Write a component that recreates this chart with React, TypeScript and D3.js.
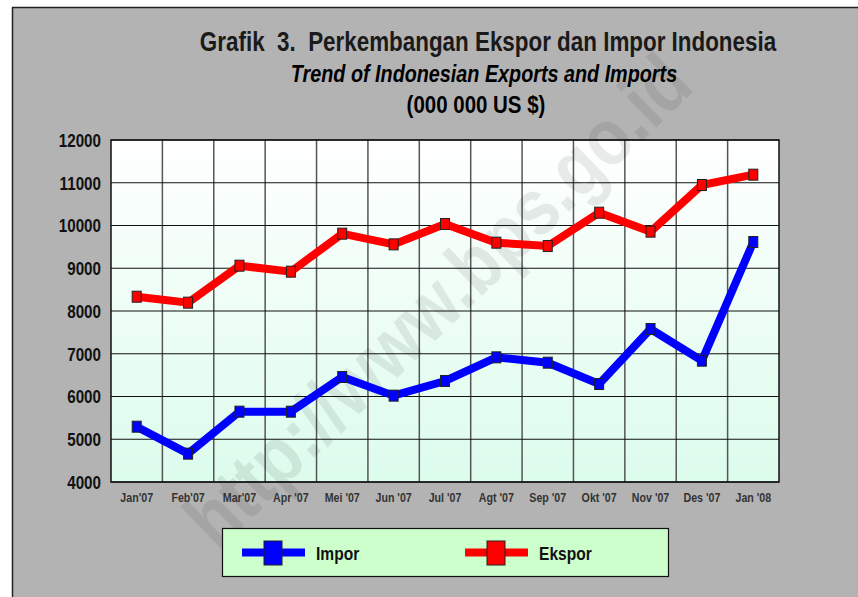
import React from "react";
import * as d3 from "d3";

const months = ["Jan'07", "Feb'07", "Mar'07", "Apr '07", "Mei '07", "Jun '07", "Jul '07", "Agt '07", "Sep '07", "Okt '07", "Nov '07", "Des '07", "Jan '08"];
const impor = [5294, 4663, 5645, 5645, 6456, 6020, 6363, 6916, 6791, 6292, 7579, 6838, 9614];
const ekspor = [8334, 8195, 9060, 8920, 9809, 9559, 10035, 9598, 9520, 10300, 9856, 10947, 11189];
const yTicks = [4000, 5000, 6000, 7000, 8000, 9000, 10000, 11000, 12000];
const titleLines = ["Grafik  3.  Perkembangan Ekspor dan Impor Indonesia", "Trend of Indonesian Exports and Imports", "(000 000 US $)"];
const seriesNames = ["Impor", "Ekspor"];

const W = 858, H = 597;
const plot = { left: 111, top: 140, right: 779, bottom: 482 };
const FONT = "'Liberation Sans', Arial, sans-serif";

function NText(props: { x: number; y: number; sx: number; anchor?: string; size: number; italic?: boolean; fill?: string; dy?: string; children: React.ReactNode; weight?: string }) {
  const { x, y, sx, anchor = "start", size, italic, fill = "#111", dy, children, weight = "bold" } = props;
  return (
    <text transform={`translate(${x},${y}) scale(${sx},1)`} dy={dy} textAnchor={anchor} fontFamily={FONT} fontSize={size} fontWeight={weight} fontStyle={italic ? "italic" : "normal"} fill={fill} style={{ whiteSpace: "pre" }}>
      {children}
    </text>
  );
}

export default function App() {
  const x = d3.scaleBand<string>().domain(months).range([plot.left, plot.right]).padding(0);
  const y = d3.scaleLinear().domain([4000, 12000]).range([plot.bottom, plot.top]);
  const cx = (m: string) => (x(m) as number) + x.bandwidth() / 2;
  const line = d3.line<number>().x((_, i) => cx(months[i])).y((v) => y(v));
  const series = [
    { name: seriesNames[0], data: impor, color: "#0000ff" },
    { name: seriesNames[1], data: ekspor, color: "#ff0000" },
  ];
  const bounds = months.map((m) => x(m) as number).concat([plot.right]);

  return (
    <svg width={W} height={H} style={{ position: "absolute", left: 0, top: 0 }}>
      <defs>
        <linearGradient id="pbg" x1="0" y1="0" x2="0" y2="1">
          <stop offset="0" stopColor="#ffffff" />
          <stop offset="1" stopColor="#dcfcec" />
        </linearGradient>
      </defs>
      <rect x={0} y={0} width={W} height={H} fill="#ffffff" />
      <rect x={12} y={7} width={W - 12} height={H - 7} fill="#b3b3b3" />
      <line x1={12.5} y1={7} x2={12.5} y2={H} stroke="#222" strokeWidth={1.5} />
      <line x1={12} y1={7.5} x2={W} y2={7.5} stroke="#222" strokeWidth={1.5} />

      {/* title */}
      <NText x={488} y={51} sx={0.83} anchor="middle" size={27} fill="#1a1a1a">{titleLines[0]}</NText>
      <NText x={484} y={82} sx={0.86} anchor="middle" size={23} italic fill="#000">{titleLines[1]}</NText>
      <NText x={476} y={113} sx={0.89} anchor="middle" size={23} fill="#000">{titleLines[2]}</NText>

      {/* plot area */}
      <rect x={plot.left} y={plot.top} width={plot.right - plot.left} height={plot.bottom - plot.top} fill="url(#pbg)" />
      {bounds.slice(1, -1).map((b, i) => (
        <line key={"v" + i} x1={b} x2={b} y1={plot.top} y2={plot.bottom} stroke="#555" strokeWidth={1.5} />
      ))}
      {yTicks.map((t) => (
        <line key={"h" + t} x1={plot.left} x2={plot.right} y1={y(t)} y2={y(t)} stroke="#111" strokeWidth={1.2} />
      ))}
      <rect x={plot.left} y={plot.top} width={plot.right - plot.left} height={plot.bottom - plot.top} fill="none" stroke="#111" strokeWidth={1.5} />

      {/* watermark */}
      <text transform="translate(442,305) rotate(-44) scale(0.85,1)" textAnchor="middle" dominantBaseline="middle" fontFamily={FONT} fontWeight="bold" fontSize={80} fill="#000" opacity={0.08}>http://www.bps.go.id</text>

      {/* y labels */}
      {yTicks.map((t) => (
        <NText key={"yl" + t} x={101} y={y(t)} dy="0.36em" sx={0.8} anchor="end" size={19}>{t}</NText>
      ))}
      {/* x labels */}
      {months.map((m) => (
        <NText key={"xl" + m} x={cx(m)} y={502} sx={0.82} anchor="middle" size={13} fill="#333">{m}</NText>
      ))}

      {/* series */}
      {series.map((s) => (
        <g key={s.name}>
          <path d={line(s.data) as string} fill="none" stroke={s.color} strokeWidth={8} strokeLinejoin="miter" />
          {s.data.map((v, i) => (
            <rect key={i} x={cx(months[i]) - 4.5} y={y(v) - 5.5} width={9} height={11} fill={s.color} stroke="#222" strokeWidth={1} />
          ))}
        </g>
      ))}

      {/* legend */}
      <rect x={222.5} y={528.5} width={446} height={48} fill="#ccffcc" stroke="#111" strokeWidth={1.2} />
      {series.map((s, i) => {
        const lx = i === 0 ? 242 : 465;
        return (
          <g key={"lg" + s.name}>
            <line x1={lx} x2={lx + 63} y1={552.5} y2={552.5} stroke={s.color} strokeWidth={8} />
            <rect x={lx + 22} y={541} width={18} height={24} fill={s.color} stroke="#222" strokeWidth={1} />
            <NText x={lx + 74} y={553} dy="0.36em" sx={0.82} size={19}>{s.name}</NText>
          </g>
        );
      })}
    </svg>
  );
}
